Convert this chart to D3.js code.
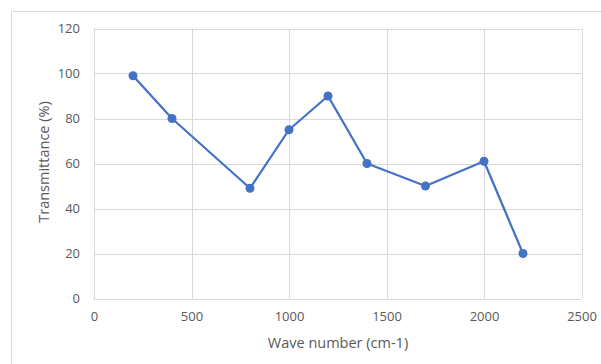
<!DOCTYPE html>
<html>
<head>
<meta charset="utf-8">
<script src="https://cdn.jsdelivr.net/npm/d3@7"></script>
<style>
  html, body { margin: 0; padding: 0; background: #fff; }
  svg { display: block; }
</style>
</head>
<body>
<svg id="chart" width="601" height="364"></svg>
<script>
// Transmittance measured at each wave number
const waveNumbers = [200, 400, 800, 1000, 1200, 1400, 1700, 2000, 2200];
const transmittance = [99, 80, 49, 75, 90, 60, 50, 61, 20];
const xTicks = [0, 500, 1000, 1500, 2000, 2500];
const yTicks = [0, 20, 40, 60, 80, 100, 120];

const svg = d3.select("#chart");
const font = "'Open Sans', 'Noto Sans', sans-serif";
const textColor = "#595959";
const gridColor = "#d9d9d9";
const lineColor = "#4472c4";

// Chart frame
svg.append("path")
  .attr("d", "M11.5,364 V11.5 H601")
  .attr("fill", "none")
  .attr("stroke", gridColor)
  .attr("stroke-width", 1);

const x = d3.scaleLinear().domain([0, 2500]).range([94, 581.5]);
const y = d3.scaleLinear().domain([0, 120]).range([298.5, 28.5]);

// Gridlines
svg.append("g").selectAll("line").data(yTicks).join("line")
  .attr("x1", x(0)).attr("x2", x(2500))
  .attr("y1", d => Math.round(y(d)) + 0.5).attr("y2", d => Math.round(y(d)) + 0.5)
  .attr("stroke", gridColor).attr("stroke-width", 1);
svg.append("g").selectAll("line").data(xTicks).join("line")
  .attr("y1", y(0)).attr("y2", y(120))
  .attr("x1", d => Math.round(x(d)) + 0.5).attr("x2", d => Math.round(x(d)) + 0.5)
  .attr("stroke", gridColor).attr("stroke-width", 1);

// Axes (labels only)
const xAxis = d3.axisBottom(x).tickValues(xTicks).tickFormat(d3.format("d")).tickSize(0).tickPadding(13);
const yAxis = d3.axisLeft(y).tickValues(yTicks).tickFormat(d3.format("d")).tickSize(0).tickPadding(14);

const gx = svg.append("g").attr("transform", `translate(0,${y(0)})`).call(xAxis);
const gy = svg.append("g").attr("transform", `translate(${x(0)},0)`).call(yAxis);
[gx, gy].forEach(g => {
  g.select(".domain").remove();
  g.selectAll("text")
    .attr("fill", textColor)
    .style("font-family", font)
    .style("font-size", "13px");
});

// Axis titles
svg.append("text")
  .attr("x", 338).attr("y", 348)
  .attr("text-anchor", "middle")
  .attr("fill", textColor)
  .style("font-family", font).style("font-size", "14.5px")
  .text("Wave number (cm-1)");
svg.append("text")
  .attr("transform", "translate(49,162) rotate(-90)")
  .attr("text-anchor", "middle")
  .attr("fill", textColor)
  .style("font-family", font).style("font-size", "14.5px")
  .text("Transmittance (%)");

// Series line and markers
const data = waveNumbers.map((w, i) => ({ w, t: transmittance[i] }));
svg.append("path")
  .datum(data)
  .attr("fill", "none")
  .attr("stroke", lineColor)
  .attr("stroke-width", 2.25)
  .attr("stroke-linejoin", "round")
  .attr("d", d3.line().x(d => x(d.w)).y(d => y(d.t)));
svg.append("g").selectAll("circle").data(data).join("circle")
  .attr("cx", d => x(d.w)).attr("cy", d => y(d.t))
  .attr("r", 4.5).attr("fill", lineColor);
</script>
</body>
</html>
